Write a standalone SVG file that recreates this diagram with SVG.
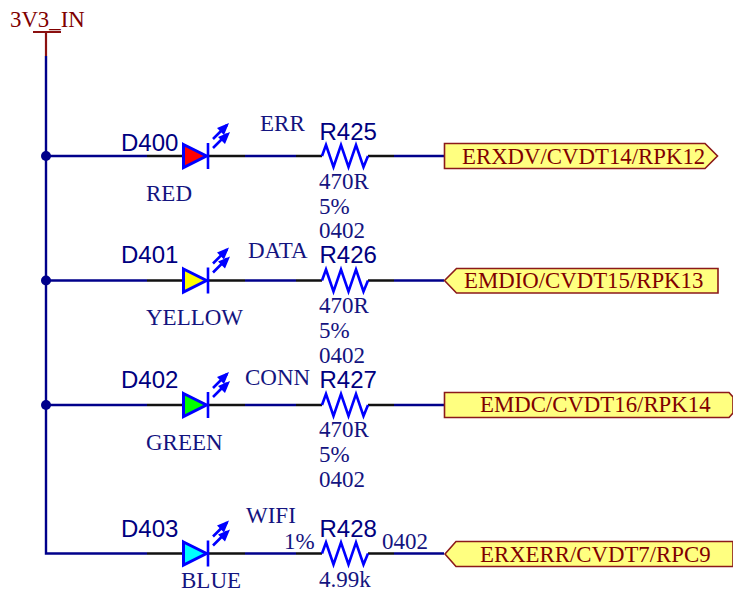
<svg xmlns="http://www.w3.org/2000/svg" width="733" height="592" viewBox="0 0 733 592">
<style>
text{font-family:"Liberation Serif","Times New Roman",serif;font-size:23px;fill:#14147f}
.ref{font-family:"Liberation Sans",Arial,sans-serif;font-size:24px;fill:#000080}
.net{fill:#800000;font-size:22.800px}
.wire{fill:none;stroke:#00008b;stroke-width:2.4}
.pin{fill:none;stroke:#111;stroke-width:2.4}
.dev{fill:none;stroke:#0000ff;stroke-width:2.6}
.port{fill:#ffff80;stroke:#8b1a1a;stroke-width:1.6}
.pwr{fill:none;stroke:#8b1010;stroke-width:2.2}
</style>
<defs>
<g id="led">
<path class="dev" d="M208 143V169"/>
<path d="M183.500 144.500 206.500 156 183.500 167.500Z" stroke="#0000ff" stroke-width="3"/>
<path class="dev" d="M213 139 227 125M213 148 227 134"/>
<path fill="#0000ff" d="M229 123 217 128 224 135ZM230 132 218 137 225 144Z"/>
</g>
<path id="res" class="dev" d="M322 156 326 145 333.500 167 341 145 348.500 167 356 145 363.500 167 368 156"/>
</defs>
<g id="connectors">
<path class="wire" d="M46 56V553.500H147"/>
<path class="wire" d="M46 156H147M46 280.500H147M46 405H147"/>
<path class="pin" d="M147 156H183M208 156H245M296 156H322M368 156H394"/>
<path class="pin" d="M147 280.500H183M208 280.500H245M296 280.500H322M368 280.500H394"/>
<path class="pin" d="M147 405H183M208 405H245M296 405H322M368 405H394"/>
<path class="pin" d="M147 553.500H183M208 553.500H245M296 553.500H322M368 553.500H394"/>
<path class="wire" d="M245 156H296M394 156H444M245 280.500H296M394 280.500H444M245 405H296M394 405H444M245 553.500H296M394 553.500H444"/>
<circle cx="46" cy="156" r="5" fill="#00008b"/>
<circle cx="46" cy="280.500" r="5" fill="#00008b"/>
<circle cx="46" cy="405" r="5" fill="#00008b"/>
</g>
<g id="power-3v3">
<path class="pwr" d="M33 32H61M46 32V56"/>
<text class="net" x="10" y="27">3V3_IN</text>
</g>
<g id="D400"><use href="#led" fill="#ff0000"/><text class="ref" x="121" y="151">D400</text><text x="146" y="201">RED</text></g>
<g id="D401"><use href="#led" y="124.500" fill="#ffff00"/><text class="ref" x="121" y="263">D401</text><text x="146" y="325">YELLOW</text></g>
<g id="D402"><use href="#led" y="249" fill="#00ff00"/><text class="ref" x="121" y="388">D402</text><text x="146" y="450">GREEN</text></g>
<g id="D403"><use href="#led" y="397.500" fill="#00ffff"/><text class="ref" x="121" y="537">D403</text><text x="181" y="587.500">BLUE</text></g>
<g id="R425"><use href="#res"/><text class="ref" x="319.500" y="139.500">R425</text><text x="260" y="131">ERR</text><text x="319" y="189">470R</text><text x="319" y="214">5%</text><text x="319" y="238">0402</text></g>
<g id="R426"><use href="#res" y="124.500"/><text class="ref" x="319.500" y="263">R426</text><text x="248" y="258">DATA</text><text x="319" y="313">470R</text><text x="319" y="338">5%</text><text x="319" y="363">0402</text></g>
<g id="R427"><use href="#res" y="249"/><text class="ref" x="319.500" y="388">R427</text><text x="245" y="385">CONN</text><text x="319" y="437">470R</text><text x="319" y="462">5%</text><text x="319" y="487">0402</text></g>
<g id="R428"><use href="#res" y="397.500"/><text class="ref" x="319.500" y="537">R428</text><text x="246" y="523">WIFI</text><text x="284" y="549">1%</text><text x="382" y="549">0402</text><text x="319" y="587">4.99k</text></g>
<g id="port-erxdv"><path class="port" d="M444.500 143.500H705L717.500 156 705 168.500H444.500Z"/><text class="net" x="462" y="164">ERXDV/CVDT14/RPK12</text></g>
<g id="port-emdio"><path class="port" d="M444.500 280.500 456.500 268.500H718V293H456.500Z"/><text class="net" x="464" y="288">EMDIO/CVDT15/RPK13</text></g>
<g id="port-emdc"><path class="port" d="M444.500 392.500H729L733 397V413L729 417.500H444.500Z"/><text class="net" x="480" y="411.500">EMDC/CVDT16/RPK14</text></g>
<g id="port-erxerr"><path class="port" d="M445 554 456 541.500H733V566.500H456Z"/><text class="net" x="480" y="561.500">ERXERR/CVDT7/RPC9</text></g>
</svg>
